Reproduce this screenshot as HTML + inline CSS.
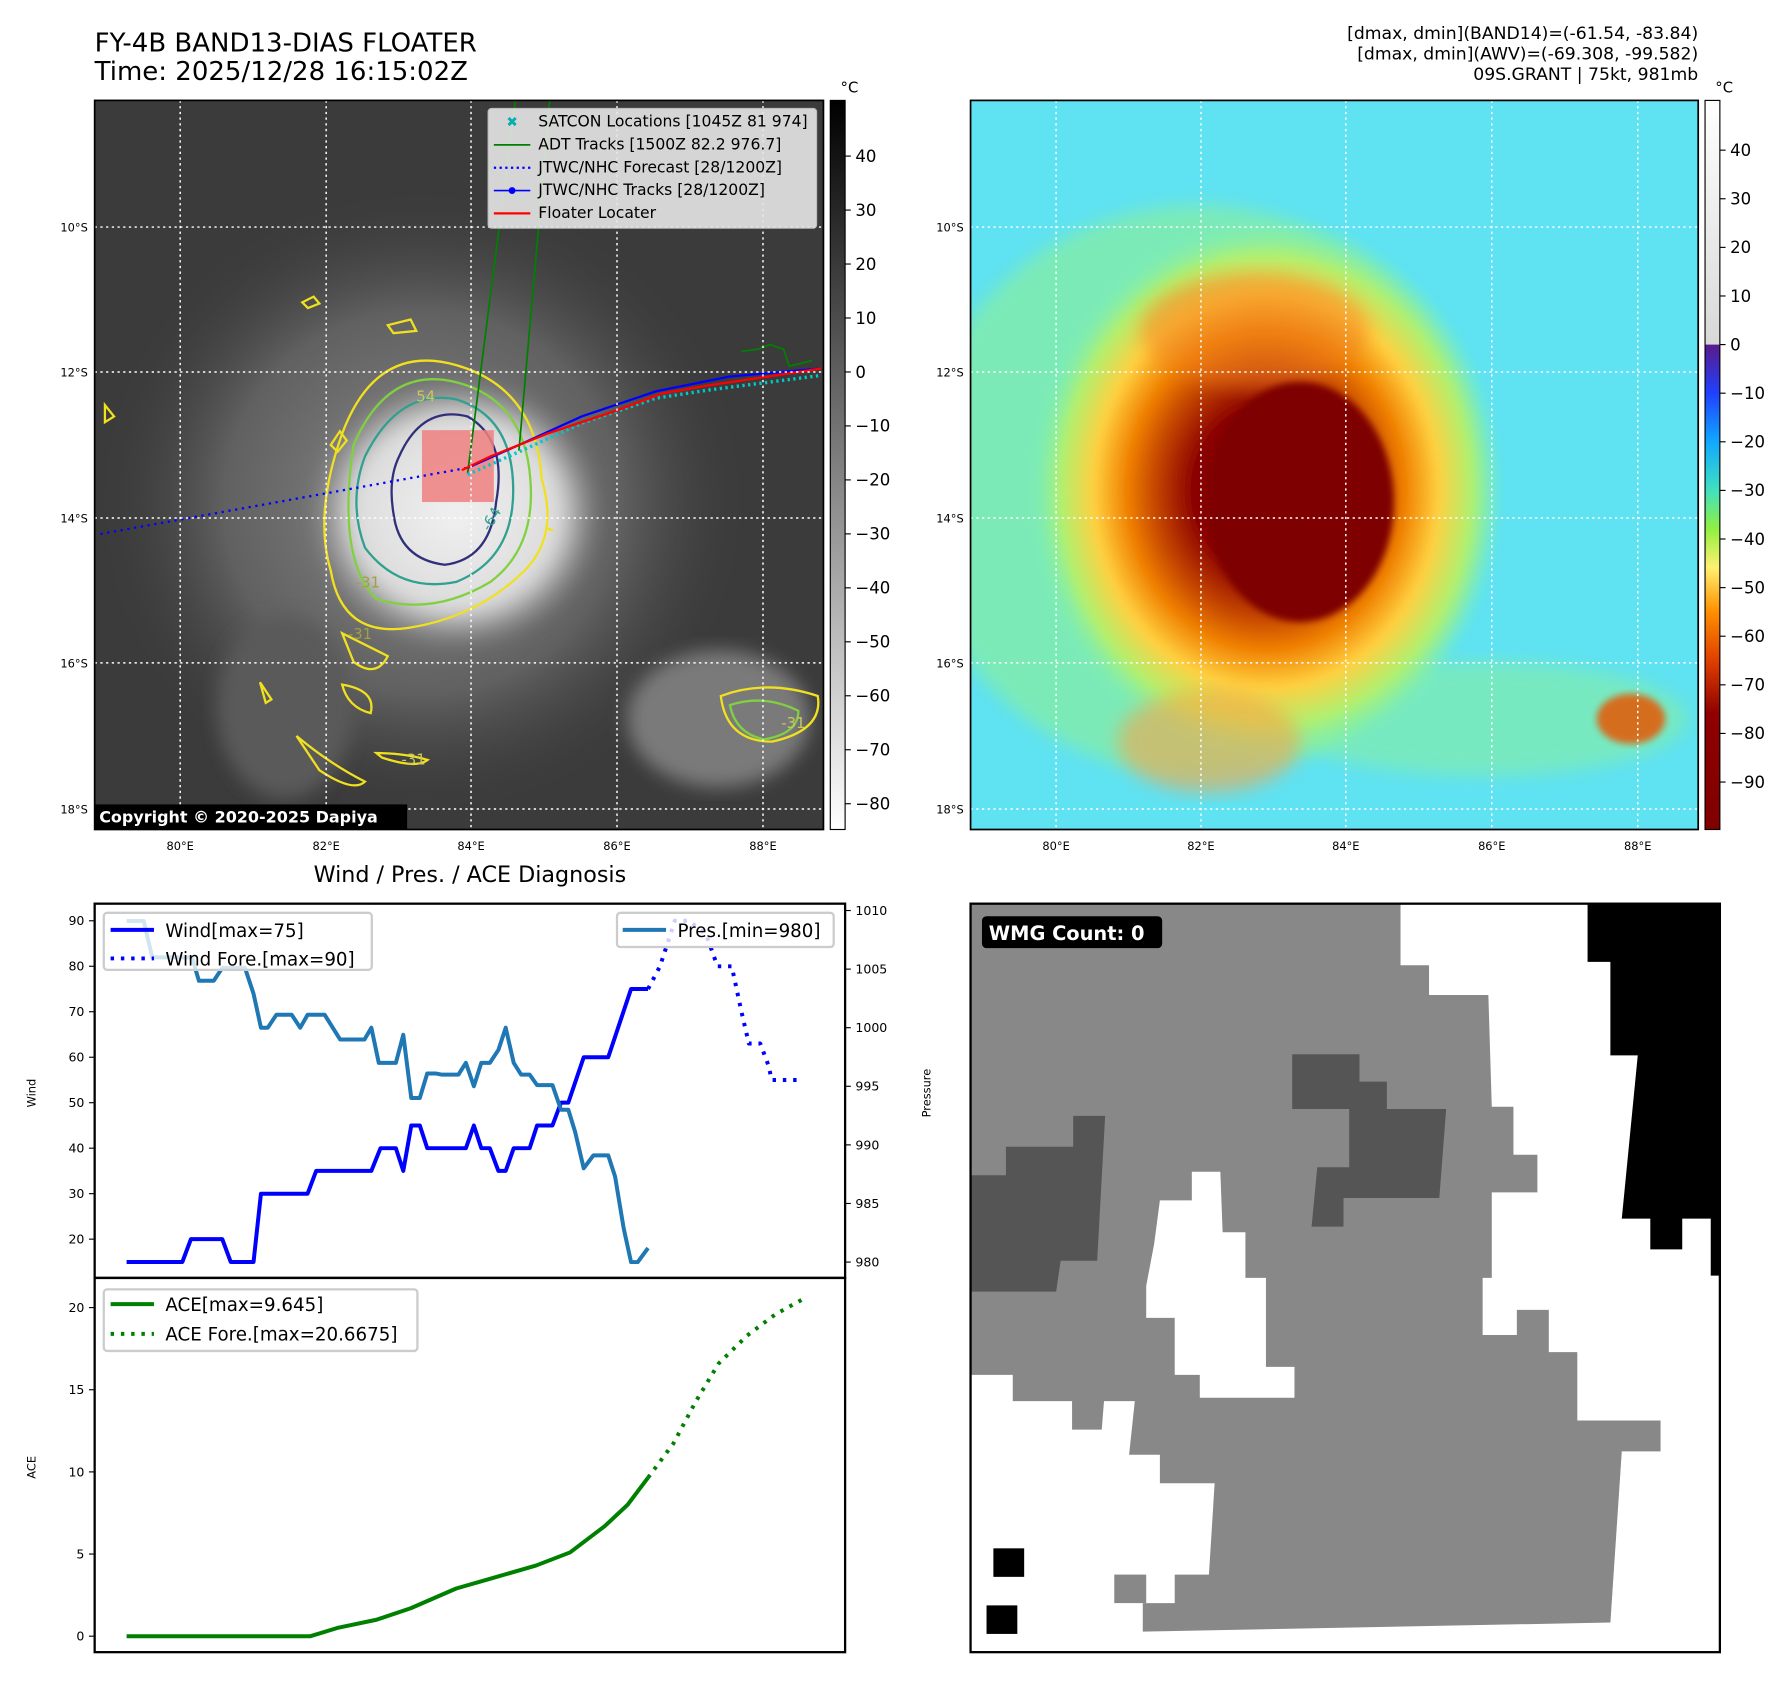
<!DOCTYPE html>
<html><head><meta charset="utf-8">
<style>
html,body{margin:0;padding:0;background:#fff;overflow:hidden}
#wrap{width:1560px;height:1474px;transform:scale(1.1405,1.141);transform-origin:0 0;position:relative}
svg text{font-family:"DejaVu Sans","Liberation Sans",sans-serif}
</style></head><body>
<div id="wrap">
<svg id="fig" width="1560" height="1474" viewBox="0 0 1560 1474" xmlns="http://www.w3.org/2000/svg">
<defs>
 <clipPath id="clipL"><rect x="83" y="88" width="639" height="639"/></clipPath>
 <clipPath id="clipR"><rect x="851" y="88" width="638" height="639"/></clipPath>
 <filter id="blur8"><feGaussianBlur stdDeviation="8"/></filter>
 <filter id="blur3"><feGaussianBlur stdDeviation="3"/></filter>
 <radialGradient id="gSwirl" cx="0.5" cy="0.5" r="0.5">
  <stop offset="0" stop-color="#9a9a9a"/><stop offset="0.6" stop-color="#6a6a6a"/><stop offset="1" stop-color="#3a3a3a" stop-opacity="0"/>
 </radialGradient>
 <radialGradient id="gCore" cx="0.5" cy="0.5" r="0.5">
  <stop offset="0" stop-color="#f0f0f0"/><stop offset="0.7" stop-color="#dcdcdc"/><stop offset="1" stop-color="#999" stop-opacity="0"/>
 </radialGradient>
 <radialGradient id="gIR" cx="0.5" cy="0.5" r="0.5">
  <stop offset="0" stop-color="#7a0000"/><stop offset="0.3" stop-color="#8a0000"/><stop offset="0.45" stop-color="#c04000"/>
  <stop offset="0.58" stop-color="#f08000"/><stop offset="0.72" stop-color="#ffd040"/><stop offset="0.86" stop-color="#b0f070"/><stop offset="1" stop-color="#70f0c0" stop-opacity="0"/>
 </radialGradient>
 <linearGradient id="cbGray" x1="0" y1="0" x2="0" y2="1">
  <stop offset="0" stop-color="#000"/><stop offset="1" stop-color="#fff"/>
 </linearGradient>
 <linearGradient id="cbJetTop" x1="0" y1="0" x2="0" y2="1">
  <stop offset="0" stop-color="#ffffff"/><stop offset="1" stop-color="#d8d8d8"/>
 </linearGradient>
 <linearGradient id="cbJet" x1="0" y1="0" x2="0" y2="1">
  <stop offset="0" stop-color="#5a1a8a"/><stop offset="0.1" stop-color="#2040ff"/><stop offset="0.2" stop-color="#10a8ff"/>
  <stop offset="0.3" stop-color="#40e0c0"/><stop offset="0.38" stop-color="#90f040"/><stop offset="0.46" stop-color="#fff070"/>
  <stop offset="0.55" stop-color="#ff9000"/><stop offset="0.65" stop-color="#e04000"/><stop offset="0.76" stop-color="#900000"/><stop offset="1" stop-color="#800000"/>
 </linearGradient>
</defs>

<text x="83" y="45" font-size="22.8">FY-4B BAND13-DIAS FLOATER</text>
<text x="83" y="70" font-size="22.8">Time: 2025/12/28 16:15:02Z</text>
<g font-size="15.1" text-anchor="end">
 <text x="1489" y="34">[dmax, dmin](BAND14)=(-61.54, -83.84)</text>
 <text x="1489" y="52">[dmax, dmin](AWV)=(-69.308, -99.582)</text>
 <text x="1489" y="70">09S.GRANT | 75kt, 981mb</text>
</g>

<g clip-path="url(#clipL)">
 <rect x="83" y="88" width="639" height="639" fill="#3b3b3b"/>
 <ellipse cx="370" cy="440" rx="290" ry="280" fill="url(#gSwirl)" opacity="0.8"/>
 <ellipse cx="400" cy="450" rx="130" ry="120" fill="url(#gCore)" filter="url(#blur8)"/>
 <ellipse cx="630" cy="630" rx="80" ry="60" fill="#7a7a7a" filter="url(#blur8)"/>
 <ellipse cx="250" cy="620" rx="60" ry="80" fill="#5a5a5a" filter="url(#blur8)"/>
 <g fill="none" stroke-width="2">
  <path d="M300,380 Q330,300 400,320 Q470,340 475,420 Q490,470 460,500 Q420,540 360,550 Q300,560 290,500 Q275,450 300,380Z" stroke="#f0e020"/>
  <path d="M310,390 Q340,320 400,335 Q460,350 465,420 Q470,480 430,510 Q380,540 330,525 Q295,490 310,390Z" stroke="#80d040"/>
  <path d="M320,400 Q350,340 400,350 Q450,365 450,430 Q450,490 400,510 Q350,520 320,480 Q305,440 320,400Z" stroke="#30a090"/>
  <path d="M350,400 Q370,355 410,365 Q445,385 435,440 Q430,490 390,495 Q350,490 345,450 Q340,420 350,400Z" stroke="#30307a"/>
  <path d="M265,265 l10,-5 5,6 -10,4z M340,285 l20,-5 5,10 -20,2z M290,390 l8,-12 6,8 -8,10z M300,555 q20,10 40,20 q-10,20 -30,5z M300,600 q30,5 25,25 q-20,-5 -25,-25z M260,645 q30,25 60,40 q-10,10 -40,-10z M330,660 q25,0 45,6 q-10,8 -40,-2z M632,610 q40,-15 85,0 q5,30 -40,40 q-40,0 -45,-40z M92,355 l8,10 -8,5z M228,598 l10,15 -5,3z M480,463 l5,2" stroke="#f0e020"/>
  <path d="M640,618 q30,-10 60,5 q0,20 -30,25 q-25,-5 -30,-30z" stroke="#80d040"/>
 </g>
 <g font-size="13" fill="#c8c860">
  <text x="365" y="352">54</text><text x="420" y="460" transform="rotate(-60 430 455)" fill="#30a090">-64</text>
  <text x="312" y="515" fill="#a0a040">-31</text><text x="305" y="560" fill="#a0a040">-31</text>
  <text x="352" y="670">-31</text><text x="685" y="638">-31</text>
 </g>
 <rect x="370" y="377" width="63" height="63" fill="#f08080" opacity="0.85"/>
 <g stroke="#008000" stroke-width="1.5" fill="none">
  <line x1="410" y1="415" x2="452" y2="88"/><line x1="455" y1="395" x2="482" y2="88"/>
  <path d="M650,308 l15,-2 10,-4 12,4 5,15 20,-5"/>
 </g>
 <line x1="88" y1="468" x2="410" y2="410" stroke="#0000ff" stroke-width="2" stroke-dasharray="2,4"/>
 <path d="M410,410 L455,390 510,365 575,343 620,336 720,323" stroke="#00c8c8" stroke-width="3" stroke-dasharray="2,3" fill="none" transform="translate(0,6)"/>
 <path d="M410,410 L455,390 510,365 575,343 640,330 720,323" stroke="#0000ff" stroke-width="2" fill="none"/>
 <path d="M405,412 L430,400 480,380 540,360 580,345 620,338 720,323" stroke="#ff0000" stroke-width="2" fill="none"/>
 <g stroke="#fff" stroke-width="1.3" stroke-dasharray="2,3">
  <line x1="158" y1="88" x2="158" y2="727"/><line x1="286" y1="88" x2="286" y2="727"/><line x1="413" y1="88" x2="413" y2="727"/><line x1="541" y1="88" x2="541" y2="727"/><line x1="669" y1="88" x2="669" y2="727"/>
  <line x1="83" y1="199" x2="722" y2="199"/><line x1="83" y1="326" x2="722" y2="326"/><line x1="83" y1="454" x2="722" y2="454"/><line x1="83" y1="581" x2="722" y2="581"/><line x1="83" y1="709" x2="722" y2="709"/>
 </g>
 <rect x="83" y="705" width="274" height="22" fill="#000"/>
 <text x="87" y="721" font-size="14" font-weight="bold" fill="#fff">Copyright © 2020-2025 Dapiya</text>
</g>
<rect x="83" y="88" width="639" height="639" fill="none" stroke="#000" stroke-width="1.5"/>
<g>
 <rect x="428" y="95" width="288" height="105" rx="3" fill="#e6e6e6" stroke="#ccc" opacity="0.9"/>
 <g font-size="13.7">
  <text x="444" y="111" fill="#00b0b0" font-size="12">✖</text><text x="472" y="111">SATCON Locations [1045Z 81 974]</text>
  <line x1="433" y1="127" x2="465" y2="127" stroke="#008000" stroke-width="1.5"/><text x="472" y="131">ADT Tracks [1500Z 82.2 976.7]</text>
  <line x1="433" y1="147" x2="465" y2="147" stroke="#0000ff" stroke-width="2" stroke-dasharray="2,3"/><text x="472" y="151">JTWC/NHC Forecast [28/1200Z]</text>
  <line x1="433" y1="167" x2="465" y2="167" stroke="#0000ff" stroke-width="1.5"/><circle cx="449" cy="167" r="3" fill="#0000ff"/><text x="472" y="171">JTWC/NHC Tracks [28/1200Z]</text>
  <line x1="433" y1="187" x2="465" y2="187" stroke="#ff0000" stroke-width="2"/><text x="472" y="191">Floater Locater</text>
 </g>
</g>
<g font-size="10" text-anchor="end">
 <text x="77" y="203">10°S</text><text x="77" y="330">12°S</text><text x="77" y="458">14°S</text><text x="77" y="585">16°S</text><text x="77" y="713">18°S</text>
</g>
<g font-size="10" text-anchor="middle">
 <text x="158" y="745">80°E</text><text x="286" y="745">82°E</text><text x="413" y="745">84°E</text><text x="541" y="745">86°E</text><text x="669" y="745">88°E</text>
</g>
<g>
 <rect x="728" y="88" width="13" height="639" fill="url(#cbGray)" stroke="#000" stroke-width="1"/>
 <text x="737" y="81" font-size="13">°C</text>
 <g font-size="14.5" id="cbL"></g>
</g>

<g clip-path="url(#clipR)">
 <rect x="851" y="88" width="638" height="639" fill="#5fe2f2"/>
 <ellipse cx="1050" cy="430" rx="250" ry="250" fill="#90f090" opacity="0.6" filter="url(#blur8)"/>
 <ellipse cx="1300" cy="630" rx="180" ry="50" fill="#90f090" opacity="0.5" filter="url(#blur8)"/>
 <ellipse cx="1110" cy="430" rx="210" ry="240" fill="url(#gIR)" filter="url(#blur3)"/>
 <ellipse cx="1100" cy="290" rx="100" ry="50" fill="#f08020" opacity="0.5" filter="url(#blur8)"/>
 <ellipse cx="1140" cy="440" rx="82" ry="105" fill="#7e0000" filter="url(#blur3)"/>
 <ellipse cx="1060" cy="650" rx="80" ry="45" fill="#ffa040" opacity="0.55" filter="url(#blur8)"/>
 <ellipse cx="1430" cy="630" rx="30" ry="22" fill="#e06010" opacity="0.9" filter="url(#blur3)"/>
 <g stroke="#fff" stroke-width="1.3" stroke-dasharray="2,3">
  <line x1="926" y1="88" x2="926" y2="727"/><line x1="1053" y1="88" x2="1053" y2="727"/><line x1="1180" y1="88" x2="1180" y2="727"/><line x1="1308" y1="88" x2="1308" y2="727"/><line x1="1436" y1="88" x2="1436" y2="727"/>
  <line x1="851" y1="199" x2="1489" y2="199"/><line x1="851" y1="326" x2="1489" y2="326"/><line x1="851" y1="454" x2="1489" y2="454"/><line x1="851" y1="581" x2="1489" y2="581"/><line x1="851" y1="709" x2="1489" y2="709"/>
 </g>
</g>
<rect x="851" y="88" width="638" height="639" fill="none" stroke="#000" stroke-width="1.5"/>
<g font-size="10" text-anchor="end">
 <text x="845" y="203">10°S</text><text x="845" y="330">12°S</text><text x="845" y="458">14°S</text><text x="845" y="585">16°S</text><text x="845" y="713">18°S</text>
</g>
<g font-size="10" text-anchor="middle">
 <text x="926" y="745">80°E</text><text x="1053" y="745">82°E</text><text x="1180" y="745">84°E</text><text x="1308" y="745">86°E</text><text x="1436" y="745">88°E</text>
</g>
<g>
 <rect x="1495" y="88" width="13" height="214" fill="url(#cbJetTop)"/>
 <rect x="1495" y="302" width="13" height="425" fill="url(#cbJet)"/>
 <rect x="1495" y="88" width="13" height="639" fill="none" stroke="#000" stroke-width="1"/>
 <text x="1504" y="81" font-size="13">°C</text>
 <g font-size="14.5" id="cbR"></g>
</g>

<text x="412" y="773" font-size="19.5" text-anchor="middle">Wind / Pres. / ACE Diagnosis</text>
<g id="windPanel"></g>
<g id="acePanel"></g>
<rect x="83" y="792" width="658" height="328" fill="none" stroke="#000" stroke-width="2"/>
<rect x="83" y="1120" width="658" height="328" fill="none" stroke="#000" stroke-width="2"/>
<text font-size="10" transform="translate(31,958) rotate(-90)" text-anchor="middle">Wind</text>
<text font-size="10" transform="translate(816,958) rotate(-90)" text-anchor="middle">Pressure</text>
<text font-size="10" transform="translate(31,1286) rotate(-90)" text-anchor="middle">ACE</text>
<g>
 <rect x="91" y="800" width="235" height="50" rx="3" fill="#fff" fill-opacity="0.8" stroke="#ccc" stroke-width="2"/>
 <line x1="97" y1="815" x2="135" y2="815" stroke="#0000ff" stroke-width="3.5"/><text x="145" y="821" font-size="16">Wind[max=75]</text>
 <line x1="97" y1="840" x2="135" y2="840" stroke="#0000ff" stroke-width="3.5" stroke-dasharray="3,6"/><text x="145" y="846" font-size="16">Wind Fore.[max=90]</text>
</g>
<g>
 <rect x="541" y="800" width="190" height="30" rx="3" fill="#fff" fill-opacity="0.8" stroke="#ccc" stroke-width="2"/>
 <line x1="546" y1="815" x2="584" y2="815" stroke="#1f77b4" stroke-width="3.5"/><text x="594" y="821" font-size="16">Pres.[min=980]</text>
</g>
<g>
 <rect x="91" y="1130" width="275" height="54" rx="3" fill="#fff" fill-opacity="0.8" stroke="#ccc" stroke-width="2"/>
 <line x1="97" y1="1143" x2="135" y2="1143" stroke="#008000" stroke-width="3.5"/><text x="145" y="1149" font-size="16">ACE[max=9.645]</text>
 <line x1="97" y1="1169" x2="135" y2="1169" stroke="#008000" stroke-width="3.5" stroke-dasharray="3,6"/><text x="145" y="1175" font-size="16">ACE Fore.[max=20.6675]</text>
</g>

<g>
 <rect x="851" y="792" width="657" height="656" fill="#fff"/>
 <polygon fill="#888" points="851,792 1228,792 1228,846 1253,846 1253,872 1305,872 1308,970 1327,970 1327,1012 1348,1012 1348,1045 1308,1045 1308,1120 1300,1120 1300,1170 1330,1170 1330,1148 1358,1148 1358,1185 1383,1185 1383,1245 1456,1245 1456,1272 1422,1272 1412,1422 1002,1430 1002,1405 1030,1405 1030,1380 1060,1380 1065,1300 1017,1300 1017,1275 990,1275 995,1228 968,1228 966,1253 940,1253 940,1228 888,1228 888,1205 851,1205"/>
 <polygon fill="#fff" points="1017,1052 1045,1052 1045,1027 1070,1027 1072,1080 1092,1080 1092,1120 1110,1120 1110,1198 1135,1198 1135,1225 1052,1225 1052,1205 1030,1205 1030,1155 1005,1155 1005,1127 1012,1090"/>
 <rect x="977" y="1380" width="28" height="25" fill="#888"/>
 <polygon fill="#555" points="851,1030 882,1030 882,1005 941,1005 941,978 969,978 962,1105 930,1105 926,1132 851,1132"/>
 <polygon fill="#555" points="1133,924 1192,924 1192,948 1216,948 1216,972 1268,972 1262,1050 1178,1050 1178,1075 1150,1075 1155,1023 1183,1023 1183,972 1133,972"/>
 <polygon fill="#000" points="1392,792 1508,792 1508,1118 1500,1118 1500,1068 1475,1068 1475,1095 1447,1095 1447,1068 1422,1068 1436,925 1412,925 1412,843 1392,843"/>
 <rect x="871" y="1357" width="27" height="25" fill="#000"/>
 <rect x="865" y="1407" width="27" height="25" fill="#000"/>
 <rect x="851" y="792" width="657" height="656" fill="none" stroke="#000" stroke-width="2"/>
 <rect x="861" y="803" width="158" height="28" rx="4" fill="#000"/>
 <text x="867" y="824" font-size="17" font-weight="bold" fill="#fff">WMG Count: 0</text>
</g>
</svg>
</div>
<script>
const windObsT = [0,9.8,11.3,16.8,18.3,22.3,23.6,31.8,33.3,43,44.6,47.3,48.6,50,51.5,52.8,59.6,61,62.3,63.8,65.3,66.6,68,70.8,72.1,74.8,76.3,77.6,80.3,84.6,88.6,91.6];
const windObs = [15,15,20,20,15,15,30,30,35,35,40,40,35,45,45,40,40,45,40,40,35,35,40,40,45,45,50,50,60,60,75,75];
const windForeT = [91.6,93.7,96.3,98.8,101.8,103.8,106.3,108,109.3,111.3,112.8,113.3,118.8];
const windFore = [75,80,90,90,87,80,80,70,63,63,58,55,55];
const presT = [0,3,4.5,11.5,12.7,15.3,16.8,20.8,22.3,23.6,24.8,26.3,29,30.5,31.8,34.8,37.5,41.8,43,44.3,47.3,48.6,50,51.5,52.8,54.3,55.3,58.3,59.6,61,62.3,63.8,65.3,66.6,68,69.3,70.8,72.1,74.8,76.3,77.6,78.8,80.3,82,84.6,85.8,87.3,88.6,89.8,91.6];
const pres = [1009.1,1009.1,1006,1006,1004,1004,1005.1,1005.1,1002.9,1000,1000,1001.1,1001.1,1000,1001.1,1001.1,999,999,1000,997,997,999.4,994,994,996.1,996.1,996,996,997,995,997,997,998.1,1000,997,996,996,995.1,995.1,993,993,991.1,988,989.1,989.1,987.3,982.9,980,980,981.2];
const aceObsT = [0,32.3,37,43.9,49.9,57.9,63.9,71.9,77.9,84,88,91.6];
const aceObs = [0,0,0.5,1,1.7,2.9,3.5,4.3,5.1,6.7,8,9.645];
const aceForeT = [91.6,96,100,104,109,114,119.6];
const aceFore = [9.645,11.7,14.3,16.6,18.3,19.6,20.6675];
const windTicks = [20,30,40,50,60,70,80,90];
const presTicks = [980,985,990,995,1000,1005,1010];
const aceTicks = [0,5,10,15,20];
const cbLTicks = [40,30,20,10,0,-10,-20,-30,-40,-50,-60,-70,-80];
const cbRTicks = [40,30,20,10,0,-10,-20,-30,-40,-50,-60,-70,-80,-90];
const NS='http://www.w3.org/2000/svg';
const xS = t => 111 + t*(594/119);
const yW = v => 807 + (90-v)*3.986;
const yP = p => 798 + (1010-p)*10.27;
const yA = a => 1434 - a*14.4;
const yCL = v => 326 - v*4.73;
const yCR = v => 302 - v*4.26;
function mk(tag, parent){const e=document.createElementNS(NS,tag);parent.appendChild(e);return e;}
function line(parent,ts,vs,ys,color,w,dash,name){
  const p=mk('path',parent);
  p.setAttribute('d',ts.map((t,i)=>(i?'L':'M')+xS(t).toFixed(1)+','+ys(vs[i]).toFixed(1)).join(' '));
  p.setAttribute('fill','none');p.setAttribute('stroke',color);p.setAttribute('stroke-width',w);
  p.setAttribute('stroke-linejoin','round');
  if(dash)p.setAttribute('stroke-dasharray',dash);
  
  
}
function ticks(parent,vals,ys,x,side,fs){
  vals.forEach(v=>{
    const l=mk('line',parent);const y=ys(v);
    l.setAttribute('x1',x);l.setAttribute('x2',x+(side<0?-5:5));l.setAttribute('y1',y);l.setAttribute('y2',y);l.setAttribute('stroke','#000');
    const t=mk('text',parent);t.textContent=String(v).replace('-','\u2212');
    t.setAttribute('x',side<0?x-9:x+9);t.setAttribute('y',y+fs*0.35);t.setAttribute('font-size',fs);
    if(side<0)t.setAttribute('text-anchor','end');
    
    
  });
}
const wp=document.getElementById('windPanel');
const ap=document.getElementById('acePanel');
ticks(wp,windTicks,yW,83,-1,11);
ticks(wp,presTicks,yP,741,1,11);
ticks(ap,aceTicks,yA,83,-1,11);
ticks(document.getElementById('cbL'),cbLTicks,yCL,741,1,14.5);
ticks(document.getElementById('cbR'),cbRTicks,yCR,1508,1,14.5);
line(wp,windObsT,windObs,yW,'#0000ff',3.5,null,'wind-line');
line(wp,windForeT,windFore,yW,'#0000ff',3.5,'3,6','wind-forecast-line');
line(wp,presT,pres,yP,'#1f77b4',3.5,null,'pressure-line');
line(ap,aceObsT,aceObs,yA,'#008000',3.5,null,'ace-line');
line(ap,aceForeT,aceFore,yA,'#008000',3.5,'3,6','ace-forecast-line');
</script>
</body></html>
